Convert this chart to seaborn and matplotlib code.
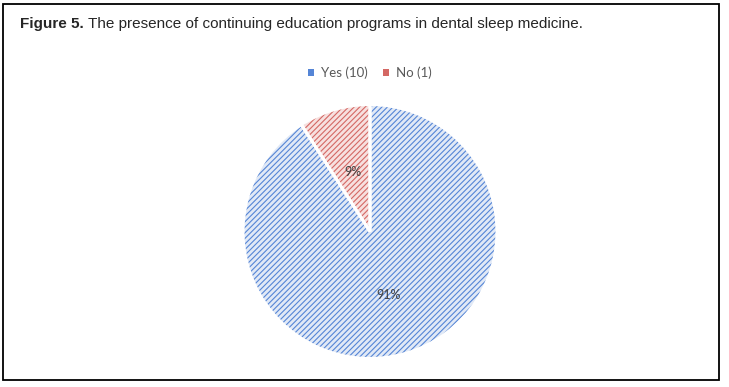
import matplotlib
matplotlib.use("Agg")
import matplotlib.pyplot as plt
import matplotlib.patches as mpatches
import seaborn as sns
import numpy as np

categories = ["Yes", "No"]
counts = [10, 1]
pct_labels = ["91%", "9%"]
title_bold = "Figure 5."
title_rest = " The presence of continuing education programs in dental sleep medicine."

sns.set_theme(style="white")
plt.rcParams['font.family'] = ['Liberation Sans', 'DejaVu Sans']
plt.rcParams['hatch.linewidth'] = 0.8

hatch_cols = ["#5585D6", "#D46864"]
face_cols = ["#E1E9F6", "#F7E0DF"]

W, H = 729, 387
fig = plt.figure(figsize=(W / 100, H / 100), dpi=100)
fig.patch.set_facecolor("white")

# border
fig.add_artist(mpatches.Rectangle((3 / W, 1 - 380 / H), (719 - 3) / W, (380 - 4) / H,
                                  transform=fig.transFigure, fill=False,
                                  edgecolor="black", linewidth=1.3))

t = fig.text(20 / W, 1 - 24 / H, title_bold, fontsize=11, fontweight="bold",
             va="center", ha="left")
fig.canvas.draw()
bb = t.get_window_extent()
fig.text(bb.x1 / W, 1 - 24 / H, title_rest, fontsize=11, va="center", ha="left")

cx, cy, r = 370, 231.5, 127
ax = fig.add_axes([(cx - r) / W, (H - cy - r) / H, 2 * r / W, 2 * r / H])
wedges, _ = ax.pie(counts, startangle=90, counterclock=False, radius=1,
                   colors=face_cols, wedgeprops=dict(linewidth=0))
for w, hc in zip(wedges, hatch_cols):
    w.set_hatch("//////")
    w.set_edgecolor(hc)
    w.set_linewidth(0)
ax.pie(counts, startangle=90, counterclock=False, radius=1,
       colors=["none", "none"],
       wedgeprops=dict(linewidth=2.2, edgecolor="white", fill=False))
ax.set_xlim(-1, 1)
ax.set_ylim(-1, 1)
ax.set_aspect("equal")
ax.axis("off")

# percentage labels
total = sum(counts)
start = 90.0
for c, lab in zip(counts, pct_labels):
    ang = start - 360 * c / total / 2
    start -= 360 * c / total
    rr = 0.52 if c / total > 0.5 else 0.49
    ax.text(rr * np.cos(np.radians(ang)), rr * np.sin(np.radians(ang)), lab,
            ha="center", va="center", fontsize=9, color="#404040",
            family=["Lato", "DejaVu Sans"])

handles = [mpatches.Patch(facecolor=hc, edgecolor="none") for hc in hatch_cols]
labels = [f"{c} ({n})" for c, n in zip(categories, counts)]
fig.legend(handles, labels, loc="center", bbox_to_anchor=(370 / W, 1 - 73 / H),
           ncol=2, frameon=False, handlelength=0.45, handleheight=0.45,
           handletextpad=0.5, columnspacing=1.2,
           prop=dict(family=["Lato", "DejaVu Sans"], size=9.5),
           labelcolor="#595959")

fig.savefig("out.png", dpi=100)
